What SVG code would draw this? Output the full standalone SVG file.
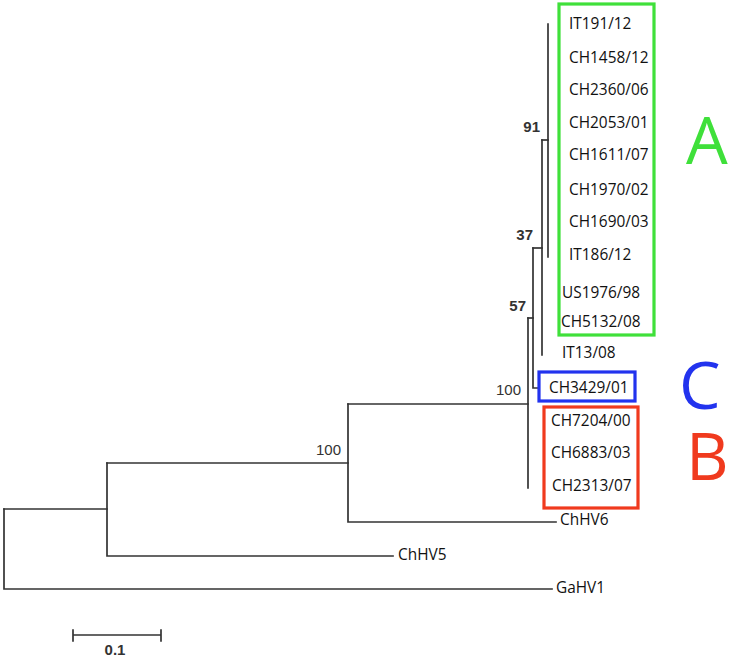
<svg xmlns="http://www.w3.org/2000/svg" width="729" height="659" viewBox="0 0 729 659">
<style>
.br{fill:none;stroke:#333;stroke-width:1.7;stroke-linecap:square}
.tip{font-family:"Open Sans","Liberation Sans",sans-serif;font-size:15.4px;fill:#111}
.bs{font-family:"Liberation Sans",Arial,sans-serif;font-size:15px;fill:#333}
.b{font-weight:bold}
.box{fill:none;stroke-width:3.2}
.big{font-family:"Open Sans","Liberation Sans",sans-serif;font-size:66px}
</style>
<rect width="729" height="659" fill="#fff"/>
<g id="connectors">
<path class="br" d="M548 24V257"/>
<path class="br" d="M542 140H548"/>
<path class="br" d="M542 140V355"/>
<path class="br" d="M533 248H542"/>
<path class="br" d="M533 248V388H539"/>
<path class="br" d="M528 318H533"/>
<path class="br" d="M528 318V488"/>
<path class="br" d="M348 404H528"/>
<path class="br" d="M348 404V522H556"/>
<path class="br" d="M107 463H348"/>
<path class="br" d="M107 463V556H393"/>
<path class="br" d="M4 509H107"/>
<path class="br" d="M4 509V589H552"/>
</g>
<g id="bootstrap">
<text class="bs b" x="540" y="132" text-anchor="end">91</text>
<text class="bs b" x="533" y="240" text-anchor="end">37</text>
<text class="bs b" x="526" y="311" text-anchor="end">57</text>
<text class="bs" x="521" y="395" text-anchor="end">100</text>
<text class="bs" x="341" y="455" text-anchor="end">100</text>
</g>
<g id="box-A"><rect class="box" x="559" y="4" width="95" height="331" stroke="#3fe03a"/></g>
<g id="box-C"><rect class="box" x="539" y="372" width="96" height="29" stroke="#2233ee"/></g>
<g id="box-B"><rect class="box" x="544" y="407" width="94" height="101" stroke="#f03a1e"/></g>
<g id="tips">
<text class="tip" x="569" y="29">IT191/12</text>
<text class="tip" x="569" y="63">CH1458/12</text>
<text class="tip" x="569" y="95">CH2360/06</text>
<text class="tip" x="569" y="128">CH2053/01</text>
<text class="tip" x="569" y="160">CH1611/07</text>
<text class="tip" x="569" y="195">CH1970/02</text>
<text class="tip" x="569" y="227">CH1690/03</text>
<text class="tip" x="569" y="260">IT186/12</text>
<text class="tip" x="562" y="298">US1976/98</text>
<text class="tip" x="561" y="327">CH5132/08</text>
<text class="tip" x="562" y="358">IT13/08</text>
<text class="tip" x="549" y="393">CH3429/01</text>
<text class="tip" x="551" y="426">CH7204/00</text>
<text class="tip" x="551" y="458">CH6883/03</text>
<text class="tip" x="552" y="491">CH2313/07</text>
<text class="tip" x="560" y="525">ChHV6</text>
<text class="tip" x="398" y="560">ChHV5</text>
<text class="tip" x="556" y="593">GaHV1</text>
</g>
<g id="clade-labels">
<text class="big" x="686" y="164" fill="#3fe03a">A</text>
<text class="big" x="679" y="409" fill="#2233ee">C</text>
<text class="big" x="686" y="480" fill="#f03a1e">B</text>
</g>
<g id="scale">
<path class="br" d="M73 635H161M73 630V641M161 630V641"/>
<text class="bs b" x="115" y="655" text-anchor="middle" font-size="14">0.1</text>
</g>
</svg>
